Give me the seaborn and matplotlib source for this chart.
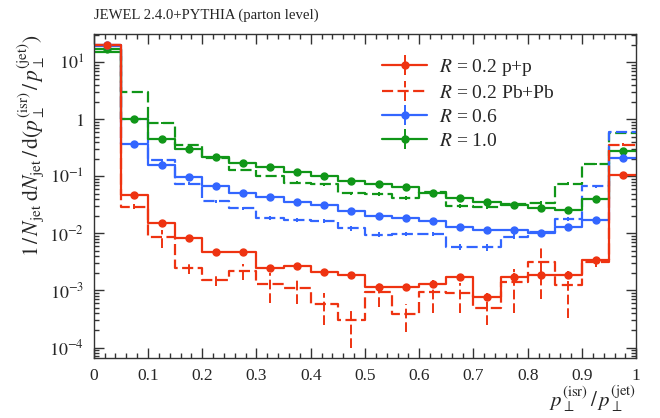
import numpy as np
import pandas as pd
import matplotlib
matplotlib.use("Agg")
import matplotlib.pyplot as plt
from matplotlib.ticker import FixedLocator, MultipleLocator, LogLocator, NullFormatter
import seaborn as sns

# bins of p_T(isr)/p_T(jet)
bin_edges = [0.0, 0.05, 0.1, 0.15, 0.2, 0.25, 0.3, 0.35, 0.4, 0.45, 0.5,
             0.55, 0.6, 0.65, 0.7, 0.75, 0.8, 0.85, 0.9, 0.95, 1.0]

x_ticks = [0, 0.1, 0.2, 0.3, 0.4, 0.5, 0.6, 0.7, 0.8, 0.9, 1.0]
x_tick_labels = ["0", "0.1", "0.2", "0.3", "0.4", "0.5", "0.6", "0.7", "0.8", "0.9", "1"]
y_ticks = [1e-4, 1e-3, 1e-2, 1e-1, 1, 10]
y_tick_labels = [r"$10^{-4}$", r"$10^{-3}$", r"$10^{-2}$", r"$10^{-1}$", r"$1$", r"$10^{1}$"]

# R = 0.2
r02_pp = [20.5, 0.0465, 0.0150, 0.0082, 0.0048, 0.0048, 0.0025, 0.0027, 0.0021, 0.0019,
          0.00115, 0.00115, 0.0013, 0.0017, 0.00077, 0.00175, 0.00187, 0.0019, 0.0034, 0.104]
r02_pp_err = [0.1, 0.002, 0.0008, 0.0005, 0.0003, 0.0004, 0.00025, 0.00025, 0.0002, 0.0002,
              0.00015, 0.00015, 0.0002, 0.00025, 0.00012, 0.0003, 0.0003, 0.0003, 0.0004, 0.003]
r02_pbpb = [20.0, 0.0296, 0.0085, 0.00245, 0.00154, 0.0022, 0.00131, 0.00112, 0.00058, 0.0003,
            0.00094, 0.00039, 0.00095, 0.00089, 0.000495, 0.0014, 0.0032, 0.00123, 0.0032, 0.36]
r02_pbpb_err = [0.5, 0.003, 0.003, 0.0005, 0.00035, 0.0007, 0.0007, 0.00055, 0.00033, 0.0002,
                0.00042, 0.0002, 0.00055, 0.00048, 0.00025, 0.001, 0.0025, 0.0009, 0.0006, 0.02]

# R = 0.6
r06_pp = [19.9, 0.371, 0.158, 0.097, 0.0675, 0.0515, 0.0444, 0.036, 0.0317, 0.0245,
          0.0202, 0.0186, 0.0163, 0.0132, 0.0115, 0.0115, 0.0103, 0.013, 0.0175, 0.21]
r06_pp_err = [0.1, 0.006, 0.003, 0.002, 0.0015, 0.0012, 0.001, 0.0009, 0.0008, 0.0007,
              0.0006, 0.0006, 0.0005, 0.0005, 0.0004, 0.0004, 0.0004, 0.0005, 0.0006, 0.004]
r06_pbpb = [19.5, 1.0, 0.19, 0.075, 0.0367, 0.0276, 0.0187, 0.017, 0.0163, 0.0123,
            0.0095, 0.0098, 0.0099, 0.0059, 0.0057, 0.0088, 0.0105, 0.0179, 0.0667, 0.605]
r06_pbpb_err = [0.3, 0.03, 0.008, 0.004, 0.002, 0.0018, 0.0014, 0.0013, 0.0013, 0.0011,
                0.0009, 0.0009, 0.0009, 0.0007, 0.0007, 0.0009, 0.001, 0.0014, 0.003, 0.02]

# R = 1.0
r10_pp = [17.4, 1.0, 0.46, 0.30, 0.216, 0.169, 0.148, 0.119, 0.101, 0.0826,
          0.073, 0.064, 0.0515, 0.042, 0.036, 0.0312, 0.0276, 0.0258, 0.0398, 0.28]
r10_pp_err = [0.1, 0.01, 0.006, 0.004, 0.003, 0.0025, 0.0022, 0.002, 0.0018, 0.0016,
              0.0015, 0.0014, 0.0012, 0.0011, 0.001, 0.0009, 0.0009, 0.0009, 0.0011, 0.005]
r10_pbpb = [15.0, 2.99, 0.87, 0.352, 0.21, 0.131, 0.101, 0.078, 0.073, 0.0508,
            0.0495, 0.042, 0.0537, 0.0308, 0.0296, 0.033, 0.0344, 0.0743, 0.167, 0.566]
r10_pbpb_err = [0.3, 0.06, 0.025, 0.012, 0.008, 0.006, 0.005, 0.0045, 0.0045, 0.0035,
                0.0035, 0.003, 0.0035, 0.0025, 0.0025, 0.0028, 0.003, 0.0045, 0.008, 0.02]

RED = "#EE3311"
BLUE = "#3366FF"
GREEN = "#109618"
DASH = (0, (5, 2))

sns.set_style("ticks")
plt.rcParams["font.family"] = ["Liberation Serif", "DejaVu Serif"]
plt.rcParams["mathtext.fontset"] = "stix"
plt.rcParams["font.size"] = 12

fig = plt.figure(figsize=(6.6, 4.18), dpi=100)
ax = fig.add_axes([0.142, 0.144, 0.822, 0.774])
ax.set_yscale("log")

edges = np.array(bin_edges)
centers = 0.5 * (edges[:-1] + edges[1:])


def draw_hist(vals, errs, color, dashed):
    steps = pd.DataFrame({"x": edges, "y": list(vals) + [vals[-1]]})
    sns.lineplot(data=steps, x="x", y="y", drawstyle="steps-post", color=color,
                 lw=1.6, linestyle=DASH if dashed else "-", errorbar=None, ax=ax)
    line = ax.lines[-1]
    if dashed:
        eb = ax.errorbar(centers, vals, yerr=errs, fmt="none", ecolor=color, elinewidth=1.4)
        eb[2][0].set_linestyle(DASH)
    else:
        eb = ax.errorbar(centers, vals, yerr=errs, fmt="o", color=color, ms=5,
                         elinewidth=1.4, capsize=0)
    return line, eb


h10_pb = draw_hist(r10_pbpb, r10_pbpb_err, GREEN, True)
h06_pb = draw_hist(r06_pbpb, r06_pbpb_err, BLUE, True)
h10 = draw_hist(r10_pp, r10_pp_err, GREEN, False)
h06 = draw_hist(r06_pp, r06_pp_err, BLUE, False)
h02_pb = draw_hist(r02_pbpb, r02_pbpb_err, RED, True)
h02 = draw_hist(r02_pp, r02_pp_err, RED, False)

ax.set_xlim(0, 1)
ax.set_ylim(6.6e-5, 31)

ax.xaxis.set_major_locator(FixedLocator(x_ticks))
ax.set_xticklabels(x_tick_labels)
ax.xaxis.set_minor_locator(MultipleLocator(0.02))
ax.yaxis.set_major_locator(FixedLocator(y_ticks))
ax.set_yticklabels(y_tick_labels)
ax.yaxis.set_minor_locator(LogLocator(base=10, subs=np.arange(2, 10), numticks=50))
ax.yaxis.set_minor_formatter(NullFormatter())

ax.tick_params(which="both", direction="in", top=True, right=True, color="#333333", width=1)
ax.tick_params(which="major", length=7, pad=7, labelsize=13)
ax.tick_params(which="minor", length=3.5)
ax.tick_params(axis="x", which="major", labelsize=12.5)
for s in ax.spines.values():
    s.set_color("#333333")
    s.set_linewidth(1)

ax.set_xlabel(r"$p_\perp^{(\mathrm{isr})}\,/\,p_\perp^{(\mathrm{jet})}$", loc="right", fontsize=15,
              labelpad=0)
ax.set_ylabel(r"$1\,/\,N_\mathrm{jet}\;\mathrm{d}N_\mathrm{jet}\,/\,\mathrm{d}(p_\perp^{(\mathrm{isr})}\,/\,p_\perp^{(\mathrm{jet})})$",
              loc="top", fontsize=15.5)
ax.yaxis.set_label_coords(-0.088, 1.0)

fig.text(0.142, 0.955, "JEWEL 2.4.0+PYTHIA (parton level)", fontsize=10.6, va="baseline", ha="left")

handles = [h02, h02_pb, h06, h10]
labels = [r"$R$ = 0.2 p+p", r"$R$ = 0.2 Pb+Pb", r"$R$ = 0.6", r"$R$ = 1.0"]
ax.legend(handles, labels, loc="upper left", bbox_to_anchor=(0.532, 0.93), frameon=False,
          handlelength=2.3, handletextpad=0.6, labelspacing=0.33, borderpad=0, borderaxespad=0,
          fontsize=14)

fig.savefig("out.png", dpi=100)
